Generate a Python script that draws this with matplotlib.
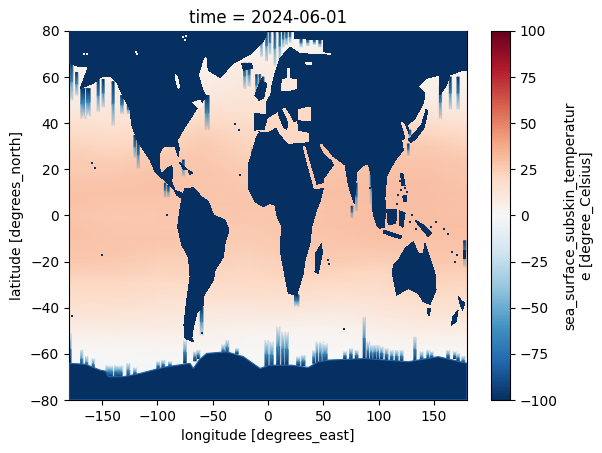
import matplotlib
matplotlib.use("Agg")
import matplotlib.pyplot as plt
import numpy as np

# ---------- Data ----------
FIELD_LONS = [-180, -140, -100, -60, -20, 20, 60, 100, 140, 180]
FIELD_LATS = [-80, -70, -64, -60, -56, -52, -48, -44, -40, -35, -30, -25, -20, -15, -10, -5, 0,
              5, 10, 15, 20, 25, 30, 35, 40, 45, 50, 55, 60, 65, 70, 75, 80]
FIELD_VALUES = [
    [-2, -2, -2, -2, -2, -2, -2, -2, -2, -2],
    [-2, -2, -2, -2, -2, -2, -2, -2, -2, -2],
    [-1, -1, -1, 0, -1, -1, -1, -1, -1, -1],
    [0, 0, 1, 1, 0, 0, 0, 0, 1, 1],
    [3, 2, 3, 3, 1, 1, 1, 2, 3, 3],
    [6, 5, 6, 5, 3, 2, 2, 4, 6, 6],
    [9, 9, 9, 7, 6, 5, 5, 7, 9, 9],
    [12, 12, 11, 9, 8, 8, 7, 10, 12, 12],
    [15, 15, 14, 12, 12, 13, 11, 13, 15, 15],
    [18, 18, 17, 16, 16, 17, 15, 16, 19, 18],
    [21, 21, 19, 19, 19, 20, 19, 19, 22, 21],
    [24, 24, 22, 22, 21, 23, 22, 21, 24, 24],
    [27, 26, 24, 24, 22, 24, 25, 24, 27, 27],
    [28, 28, 26, 26, 24, 26, 27, 27, 28, 28],
    [29, 28, 28, 27, 25, 27, 28, 29, 29, 29],
    [29, 27, 27, 27, 26, 28, 29, 30, 30, 30],
    [28, 26, 27, 28, 27, 27, 29, 30, 30, 29],
    [29, 28, 28, 28, 28, 28, 29, 30, 30, 29],
    [29, 29, 29, 28, 27, 28, 30, 30, 30, 29],
    [28, 28, 29, 28, 26, 28, 29, 30, 30, 28],
    [26, 26, 28, 28, 25, 28, 28, 29, 29, 27],
    [25, 24, 26, 27, 24, 27, 28, 28, 28, 26],
    [23, 21, 22, 26, 22, 24, 27, 26, 26, 23],
    [20, 18, 20, 24, 21, 22, 24, 24, 22, 20],
    [16, 15, 16, 21, 18, 20, 20, 20, 18, 15],
    [11, 12, 12, 16, 16, 15, 15, 14, 12, 10],
    [8, 9, 9, 11, 14, 12, 11, 9, 8, 7],
    [7, 7, 7, 9, 12, 10, 8, 6, 6, 6],
    [6, 6, 5, 6, 10, 8, 6, 4, 4, 4],
    [4, 4, 4, 5, 8, 7, 5, 3, 3, 3],
    [3, 3, 3, 4, 6, 5, 4, 3, 3, 3],
    [2, 2, 2, 3, 4, 3, 3, 2, 2, 2],
    [1, 1, 1, 2, 3, 2, 2, 1, 1, 1],
]

AMERICA_NORTH = [(-180, 80), (-180, 66), (-170, 64.5), (-162.5, 64.5), (-167, 58.7), (-170, 55.1), (-158, 57.3),
                 (-150.5, 60.2), (-143, 60.5), (-137, 58), (-131, 51.5), (-125, 46.4), (-123.3, 39.2),
                 (-118.2, 32.7), (-112.8, 28.4), (-106.7, 24), (-102.2, 19), (-97.7, 16.8), (-91.7, 14.6),
                 (-85.6, 11.7), (-82.6, 8.8), (-78, 7.4), (-77.2, 9.6), (-84.1, 11), (-87.1, 14.6), (-86.2, 19),
                 (-87.1, 21.6), (-91.7, 20.4), (-96.2, 17.8), (-98.6, 21.1), (-98.3, 26.9), (-94.7, 29.8),
                 (-84.1, 29.8), (-81.1, 25.5), (-80.2, 29.1), (-82, 32.7), (-75, 38.5), (-69, 42.8), (-64.5, 46.4),
                 (-55.5, 51.5), (-59, 54.4), (-63, 60.9), (-58.5, 68.1), (-55.5, 69.9), (-54, 63), (-43.4, 59.8),
                 (-31.4, 66), (-14.8, 70.3), (-4.2, 75.4), (-1, 79.5), (-1, 80)]
AMERICA_SOUTH = [(-78, 7.4), (-75, 11.7), (-67.5, 12), (-60, 8.1), (-54, 6), (-51, 2.4), (-49.4, 0.2), (-39, -2),
                 (-35.3, -6.3), (-38.9, -12), (-40.4, -17.9), (-47.9, -23.6), (-49.4, -28), (-57.9, -34.5),
                 (-58.5, -38.8), (-64.5, -42.4), (-67.5, -48.2), (-69, -53.3), (-67.5, -54.7), (-75, -53.3),
                 (-76, -47.5), (-73.5, -36.7), (-70.5, -26.5), (-72, -17.9), (-78, -12.8), (-81.7, -4.85),
                 (-80.2, 0.9)]
ANTARCTICA = [(-180, -80), (-180, -64.1), (-165, -64.5), (-152, -67), (-147, -67.5), (-144.4, -69.9), (-130.8, -69.9),
              (-115.8, -68.5), (-100, -66.5), (-91.7, -65.6), (-70.6, -64.1), (-67.5, -66.3), (-62, -62.5), (-55.5, -59.8),
              (-37.4, -59.1), (-22.3, -61.2), (-7.2, -66.3), (1.8, -64.9), (21.4, -64.9), (36.5, -65.9), (45, -63.5),
              (54.6, -62.7), (87.8, -62), (110, -62.8), (127, -63.4), (154, -61.2), (178.2, -63.9), (180, -64), (180, -80)]
AFRO_EURASIA = [(-10.3, 34.2), (-14, 28), (-17.8, 21.9), (-17.8, 11.7), (-11.8, 6), (-4.2, 3.8), (1.8, 5.2),
                (6.3, 4.5), (7.9, 0), (12.4, -4.85), (10.9, -15), (15.4, -26.5), (18.4, -33.8), (26, -34.5),
                (32, -25), (33.5, -19.3), (38, -12), (39.5, -4.85), (44, 2.4), (47, 6), (50, 11.7), (50, 15.8),
                (59, 21.8), (56, 24.8), (59, 25.8), (69.7, 21.9), (72.7, 13.2), (78.1, 5), (80.2, 19), (87.7, 22.2),
                (91, 21.9), (93.5, 17), (94.5, 8), (95, 1), (98.3, -4), (101, -5.5), (105.5, -5), (106, 0),
                (105.8, 8), (107.3, 16.8), (111.8, 21.2), (116.4, 24.8), (122.4, 28.4), (120.9, 32.7), (123.9, 33.5),
                (119.4, 40.7), (123.5, 40.5), (127.5, 35.6), (126.3, 39.2), (133, 42.1), (140.5, 48.6), (142, 53),
                (136, 55.9), (143.5, 59.5), (155.5, 61), (155.5, 52.3), (161.6, 56.6), (164.6, 60.9), (176.7, 63.1),
                (180, 63), (180, 80), (24.4, 80), (24.4, 76.8), (50, 76.1), (50, 71), (57.5, 70.5), (57.5, 69.5),
                (28.9, 70.2), (19.9, 73), (10.8, 68.1), (6.3, 61.6), (3.3, 56), (3.3, 53), (-1.2, 49.3), (-1.2, 43.6),
                (-11.8, 44.3), (-11.8, 37), (-7, 36.5)]
AUSTRALIA = [(113.4, -21.5), (112.5, -25), (116.4, -34.5), (127, -31.6), (136, -33.8), (140.5, -37.4), (146.5, -38.5),
             (152, -32.3), (151, -25), (142, -12), (140.5, -16.4), (136, -16.4), (131.5, -11.4), (124, -14.2),
             (118, -19.3)]
ISLANDS = [
    [(-11.8, 52), (-8, 57), (-5, 60), (-4.5, 58), (-1, 57), (-4, 51), (-8, 50)],
    [(48.6, -12), (49, -16.4), (45.5, -25), (42.5, -24.4), (43.1, -16.4)],
    [(144, -40.3), (147, -40.3), (146, -43.2), (145, -43.2)],
    [(172, -35), (175, -37), (178, -38), (176, -41), (174, -39)],
    [(172, -41), (170, -46), (166, -47.5), (167, -44)],
    [(107.4, 2.4), (116.4, 2.4), (115.6, -3.4), (108.8, -4.1)],
    [(104.3, -6.3), (113, -7.7), (121, -8.9), (120, -10), (113, -9.2), (104.3, -7.5)],
    [(133, -2), (140, -4), (148, -7.7), (145, -9.2), (137.5, -4.85)],
    [(-80, 23), (-75, 21), (-73, 20), (-76, 19.8)],
    [(-72, 19.5), (-68, 18.5), (-71, 17.8)],
    [(-24, 66), (-15, 66), (-14, 64), (-22, 63)],
    [(127, 33), (128.4, 33.5), (133, 36), (139, 39.5), (143, 46), (144.5, 45), (141, 38), (134, 33.5), (129, 31.5)],
    [(120, 18), (122, 18), (124, 13), (121, 13)],
    [(122, 9), (126, 9), (126, 6), (123, 6)],
    [(119, 2), (124, 1), (122, -5), (119, -4)],
    [(176.5, -15), (179, -15), (179, -19), (177, -19)],
]
SEAS = [
    ([(-10.3, 36.8), (-1.2, 36.3), (7.8, 38.5), (10.8, 35.6), (18.4, 31.3), (25, 31.5), (36.4, 32), (36.4, 35.6), (27, 36.5),
      (26, 40.6), (23, 40), (20, 43), (15, 46.5), (10.8, 45), (0.3, 42), (-2.8, 37)], 21),
    ([(27.4, 45.7), (33, 46.5), (38, 47), (38, 41.4), (35, 41.2), (28, 41.5)], 20),
    ([(47, 30.5), (51, 27), (56, 24.5), (57.6, 25.5), (53, 28.4), (48.5, 30.8)], 29),
    ([(32, 29.8), (33.3, 29.8), (43.5, 13), (50, 13.8), (50, 12.3), (42, 11.5), (35, 24)], 28),
    ([(17.2, 59.5), (17.2, 63.8), (19.8, 63.8), (19.8, 59.5)], 9),
    ([(12, 54.4), (13, 58.7), (18, 59.5), (25.9, 58.7), (25.9, 55), (20, 54.4)], 10),
    ([(33.4, 66.7), (39.5, 66.7), (39.5, 65.2), (35, 65.2)], 3),
    ([(-84.1, 61), (-82, 60), (-80, 56), (-81, 55), (-83, 58)], 3),
    ([(-68, 49), (-61, 50), (-60, 47), (-64, 47)], 5),
]
ITALY_LAND = [(9, 45), (13, 45.5), (18, 40), (17, 37.5), (14.5, 38), (10.5, 42.5)]

SOUTH_DRIP_LON = [-179, -168.5, -164, -158, -143, -135.4, -126.3, -120.3, -99.2, -94.7, -88.6, -75, -66, -63, -40.4, -36.8, -28,
                  -1.2, 3.3, 9.4, 13.9, 16.9, 27.5, 32, 42.5, 45.5, 48.6, 51.6, 69.7, 75.1, 80.2, 87.1, 90.8, 93.8, 96.8,
                  99.8, 102.8, 107.3, 111.9, 116.4, 120.9, 133, 139, 145, 148, 163, 169, 172, 176.7]
SOUTH_DRIP_TIP = [-51, -58.3, -61, -62, -65, -65, -64, -66, -63.3, -62.7, -63.3, -54, -59, -58.3, -56, -54, -57.6,
                  -54, -54.7, -48.2, -50.4, -50.4, -61.2, -60.5, -58.4, -54.7, -54.7, -55.5, -59, -57.6, -58.4, -43.9, -54.7, -56.2, -56.2,
                  -56.2, -56.9, -57.6, -58.4, -58.4, -58.4, -52.6, -59, -58.4, -59, -58.4, -59, -59.8, -61]
SOUTH_DRIP_BASE = [-64.5, -65.5, -66, -66.5, -70, -70, -70, -69.5, -66.5, -66, -65.5, -64, -63, -62, -60, -60, -60,
                   -66, -66, -65, -65, -65, -65, -65, -64, -64, -64, -64, -62, -62, -62, -62, -62, -62, -62,
                   -62, -62, -62.5, -63, -63, -63, -63, -63, -62, -62, -62, -62, -63, -64]
SOUTH_DRIP_WIDTH = [2, 2, 2, 2, 7, 7, 2.5, 2.5, 2.5, 2.5, 2.5, 2.5, 2.5, 2.5, 2.5, 2.5, 2.5,
                    3, 3, 3, 3, 3, 3, 3, 4, 4, 4, 4, 2.5, 2.5, 2.5, 2, 2.5, 2.5, 2.5,
                    2.5, 2.5, 2.5, 2.5, 2.5, 2.5, 2, 2.5, 2.5, 2.5, 2.5, 2.5, 2.5, 2.5]

COAST_DRIP_LON = [-177.5, -173, -167, -162.5, -153.5, -149, -140, -132, -126, -120.2, -117.3, -93, -90, -76.5, -55, -21, -17, -14,
                  -5.8, -1.2, 1.8, 6.3, 10.8, 13.8, 16.8, 20, -10.3, -7.3, -4.3, 3.3, 93.5, 94.8, 80, 97, 156, 165, 172, -60, 26, 76, 178,
                  30, 36, 42, 47, 127, 128.5]
COAST_DRIP_TOP = [66, 62, 55, 55, 59, 59, 58, 52, 48, 34.7, 32, 14, 13, 24, 52, 66, 66, 27,
                  80, 80, 80, 80, 80, 80, 80, 80, 61, 61, 60, 53, 21, 18, 14, 25, 56, 60, 60, -40, -34.5, 4, -11,
                  76.8, 76.8, 76.5, 76.2, 31, 37]
COAST_DRIP_TIP = [50, 52, 42, 43, 45, 47, 39, 44, 44, 25, 20.5, 8, 8, 17, 37, 55, 56, 29.5,
                  69, 67, 70, 65, 67, 73, 74, 75, 52, 52, 53, 51, 5, 3, 2, 15, 42, 46, 46, -52, -39.5, -1, -22,
                  73, 73.5, 74, 73, 26, 33]
COAST_DRIP_WIDTH = [2, 2, 4.5, 3.5, 2, 2, 2, 2.5, 2.5, 2, 2, 1.5, 1.5, 2, 3.5, 2, 2, 1.5,
                    1.5, 1.5, 1.5, 1.5, 1.5, 1.5, 1.5, 1.5, 1.5, 1.5, 1.5, 2, 2, 2, 1.5, 2, 2, 2, 2, 2.5, 4, 1.5, 2,
                    2, 2, 2, 2, 1.5, 1.5]

NAVY_DOT_LON = [-159.5, -156.5, -150, -91.7, -177, -30, -26, -25, 119, 120.5, 122, 124, 126, 128, 130, 152, 159.5,
                163, 166.5, 55, 54, 68.5, 147, 134, -60, 92.5, 169, 171, 117, 117.5]
NAVY_DOT_LAT = [22.6, 20.4, -17, 0.2, -43.6, 39.5, 37, 17.5, 15, 11, 8, 12, 10, -3, 0, -3, -6,
                -8, -16, -21, -19.5, -49, -5, -6, -51, 12, -20, -17, 5, 9]
WHITE_DOT_LON = [-166.4, -164, -119.4, -118.5, -76.5, -75.5, -74, -65, -62, -60]
WHITE_DOT_LAT = [70, 70, 70.7, 70, 77.5, 76, 78, 49, 47, 48]

X_TICKS = [-150, -100, -50, 0, 50, 100, 150]
Y_TICKS = [-80, -60, -40, -20, 0, 20, 40, 60, 80]
CBAR_TICKS = [-100, -75, -50, -25, 0, 25, 50, 75, 100]
TITLE = "time = 2024-06-01"
X_LABEL = "longitude [degrees_east]"
Y_LABEL = "latitude [degrees_north]"
CBAR_LABEL = "sea_surface_subskin_temperatur\ne [degree_Celsius]"

# ---------- Drawing ----------
W, H = 602, 453
NAVY = "#053061"
fig = plt.figure(figsize=(W / 100, H / 100), dpi=100)
ax = fig.add_axes([69 / W, (H - 400) / H, 398 / W, 369 / H])
cax = fig.add_axes([491 / W, (H - 400) / H, 19 / W, 369 / H])
norm = plt.Normalize(-100, 100)
cmap = plt.get_cmap("RdBu_r")

lons = np.array(FIELD_LONS, float)
lats = np.array(FIELD_LATS, float)
values = np.array(FIELD_VALUES, float)
mesh = ax.pcolormesh(lons, lats, values, cmap=cmap, norm=norm, shading="gouraud", zorder=1)


def background(lon, lat):
    i = np.argmin(np.abs(lats - lat))
    j = np.argmin(np.abs(lons - lon))
    return values[i, j]


def drip(lon, start, tip, width):
    bg_start, bg_tip = background(lon, start), background(lon, tip)
    mid = (start + tip) / 2
    bg_mid = (bg_start + bg_tip) / 2
    width = width * 1.25
    xs = [lon - width / 2, lon - width / 2.6, lon + width / 2.6, lon + width / 2]
    ys = sorted([start, mid, tip])
    rows = {start: [bg_start, -100, -100, bg_start],
            mid: [bg_mid, -62, -62, bg_mid],
            tip: [bg_tip, bg_tip, bg_tip, bg_tip]}
    ax.pcolormesh(xs, ys, np.array([rows[y] for y in ys]), cmap=cmap, norm=norm, shading="gouraud", zorder=2)


for lo, ti, ba, wi in zip(SOUTH_DRIP_LON, SOUTH_DRIP_TIP, SOUTH_DRIP_BASE, SOUTH_DRIP_WIDTH):
    drip(lo, ba, ti, wi)
for lo, to, ti, wi in zip(COAST_DRIP_LON, COAST_DRIP_TOP, COAST_DRIP_TIP, COAST_DRIP_WIDTH):
    drip(lo, to, ti, wi)


def fill_land(points, z=3, **kw):
    xs, ys = zip(*points)
    ax.fill(xs, ys, facecolor=kw.pop("color", NAVY), edgecolor="none", antialiased=False, zorder=z, **kw)


for poly in (AMERICA_NORTH, AMERICA_SOUTH, AFRO_EURASIA, AUSTRALIA):
    fill_land(poly)
xs, ys = zip(*ANTARCTICA)
ax.fill(xs, ys, facecolor=NAVY, edgecolor="#2166ac", linewidth=0.8, zorder=3)
for poly, value in SEAS:
    fill_land(poly, z=4, color=cmap(norm(value)))
for poly in ISLANDS:
    fill_land(poly, z=5)
fill_land(ITALY_LAND, z=5)
ax.scatter(NAVY_DOT_LON, NAVY_DOT_LAT, s=2.5, marker="s", color=NAVY, linewidths=0, zorder=6)
ax.scatter(WHITE_DOT_LON, WHITE_DOT_LAT, s=4, marker="s", color="#f5f2f0", linewidths=0, zorder=6)

ax.set_xlim(-180, 180)
ax.set_ylim(-80, 80)
ax.set_xticks(X_TICKS)
ax.set_yticks(Y_TICKS)
ax.set_title(TITLE, fontsize=12)
ax.set_xlabel(X_LABEL)
ax.set_ylabel(Y_LABEL)
cb = fig.colorbar(mesh, cax=cax)
cb.set_ticks(CBAR_TICKS)
cb.set_label(CBAR_LABEL)
fig.savefig("out.png", dpi=100)
